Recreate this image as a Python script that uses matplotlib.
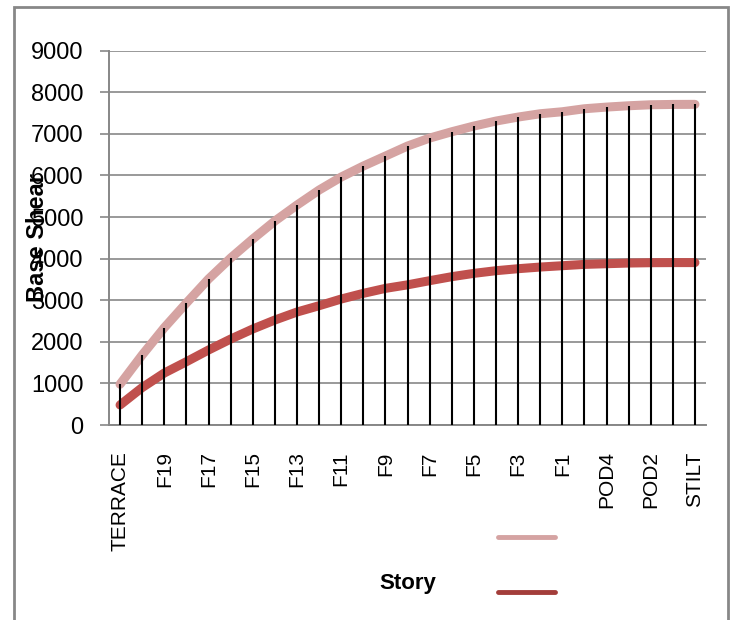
import matplotlib
matplotlib.use("Agg")
import matplotlib.pyplot as plt
from matplotlib.lines import Line2D
from matplotlib.patches import Rectangle

stories = ["TERRACE", "F20", "F19", "F18", "F17", "F16", "F15", "F14", "F13",
           "F12", "F11", "F10", "F9", "F8", "F7", "F6", "F5", "F4", "F3", "F2",
           "F1", "POD5", "POD4", "POD3", "POD2", "POD1", "STILT"]

# base shear, upper (light) series
shear_upper = [980, 1683, 2340, 2933, 3510, 4014, 4471, 4904, 5288, 5649,
               5962, 6226, 6466, 6707, 6899, 7051, 7188, 7308, 7404, 7484,
               7532, 7604, 7644, 7676, 7700, 7708, 7710]
# base shear, lower (dark) series
shear_lower = [481, 900, 1250, 1522, 1803, 2066, 2308, 2524, 2716, 2868,
               3029, 3165, 3285, 3370, 3470, 3566, 3646, 3710, 3758, 3798,
               3830, 3862, 3878, 3894, 3902, 3905, 3905]

yticks = [0, 1000, 2000, 3000, 4000, 5000, 6000, 7000, 8000, 9000]

font = ["Liberation Sans", "DejaVu Sans"]
grey = "#878787"
pink = "#D5A3A2"
red = "#C0504D"

fig = plt.figure(figsize=(7.33, 6.2), dpi=100)
ax = fig.add_axes([109 / 733, 1 - 425 / 620, 597 / 733, 374.3 / 620])

x = list(range(len(stories)))
ax.plot(x, shear_upper, color=pink, lw=6.5, solid_capstyle="round", zorder=3)
ax.plot(x, shear_lower, color=red, lw=6.5, solid_capstyle="round", zorder=3)
ax.vlines(x, 0, shear_upper, color="black", lw=1.5, zorder=4)

ax.set_xlim(-0.5, len(stories) - 0.5)
ax.set_ylim(0, 9000)
ax.set_yticks(yticks)
ax.set_yticklabels([str(v) for v in yticks], family=font, fontsize=17)
ax.set_xticks(x[::2])
ax.set_xticklabels(stories[::2], rotation=90, family=font, fontsize=15,
                   va="top", ha="center")
ax.tick_params(axis="x", length=0, pad=19)
ax.tick_params(axis="y", length=6.5, width=1.2, color=grey, pad=12)

ax.grid(axis="y", color=grey, lw=1.2)
ax.set_axisbelow(True)
for side in ["top", "right"]:
    ax.spines[side].set_visible(False)
for side in ["left", "bottom"]:
    ax.spines[side].set_color(grey)
    ax.spines[side].set_linewidth(1.4)

# the reference draws the y title right on top of the tick labels
ax.set_ylabel("Base Shear", family=font, fontsize=17, fontweight="bold")
ax.yaxis.label.set_va("center")
ax.yaxis.set_label_coords((37 - 109) / 597, 0.5)
ax.set_xlabel("Story", family=font, fontsize=16, fontweight="bold")
ax.xaxis.label.set_va("center")
ax.xaxis.set_label_coords(0.5, (425 - 584) / 374.3)

handles = [Line2D([], [], color=pink, lw=3.5, solid_capstyle="round"),
           Line2D([], [], color="#A33D3A", lw=3.5, solid_capstyle="round")]
ax.legend(handles, ["", ""], loc="center", frameon=False, fontsize=17,
          bbox_to_anchor=((526.5 - 109) / 597, (425 - 565.5) / 374.3),
          handlelength=2.4, handletextpad=0, borderpad=0, labelspacing=1.3)

fig.add_artist(Rectangle((14 / 733, -0.02), 714 / 733, 1.02 - 7 / 620,
                         transform=fig.transFigure, fill=False,
                         edgecolor=grey, lw=2))

fig.savefig("out.png", dpi=100)
